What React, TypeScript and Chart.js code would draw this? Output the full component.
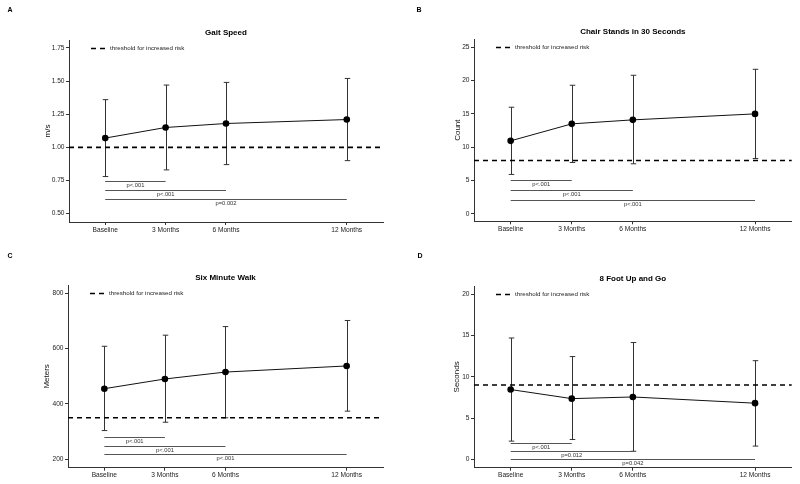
import React, { useEffect, useRef } from 'react';
import { Chart, registerables } from 'chart.js';
Chart.register(...registerables);

const categories = ['Baseline', '3 Months', '6 Months', '12 Months'];
const months = [0, 3, 6, 12];

const gaitMean = [1.07, 1.15, 1.18, 1.21];
const gaitUpper = [1.36, 1.47, 1.49, 1.52];
const gaitLower = [0.78, 0.83, 0.87, 0.9];
const gaitThreshold = 1.0;
const gaitTicks = [0.5, 0.75, 1.0, 1.25, 1.5, 1.75];
const gaitBrackets = [0.75, 0.68, 0.61];
const gaitP = ['p<.001', 'p<.001', 'p=0.002'];

const chairMean = [10.95, 13.5, 14.1, 15.0];
const chairUpper = [16.0, 19.3, 20.8, 21.7];
const chairLower = [5.9, 7.7, 7.5, 8.3];
const chairThreshold = 8;
const chairTicks = [0, 5, 10, 15, 20, 25];
const chairBrackets = [5.0, 3.5, 2.0];
const chairP = ['p<.001', 'p<.001', 'p<.001'];

const walkMean = [455, 490, 515, 537];
const walkUpper = [608, 648, 679, 701];
const walkLower = [304, 334, 350, 374];
const walkThreshold = 350;
const walkTicks = [200, 400, 600, 800];
const walkBrackets = [280, 250, 220];
const walkP = ['p<.001', 'p<.001', 'p<.001'];

const upGoMean = [8.45, 7.35, 7.55, 6.8];
const upGoUpper = [14.7, 12.45, 14.15, 11.95];
const upGoLower = [2.2, 2.4, 0.97, 1.6];
const upGoThreshold = 9;
const upGoTicks = [0, 5, 10, 15, 20];
const upGoBrackets = [2.0, 1.0, 0.0];
const upGoP = ['p<.001', 'p=0.012', 'p=0.042'];

const FONT = "'Liberation Sans', Arial, sans-serif";

type Panel = {
  letter: string;
  title: string;
  yTitle: string;
  mean: number[];
  upper: number[];
  lower: number[];
  threshold: number;
  ticks: number[];
  brackets: number[];
  pLabels: string[];
  yMin: number;
  yMax: number;
  decimals: number;
  // layout
  top: number;
  right: number;
  yWidth: number;
  xHeight: number;
  yTitleX: number;
  letterX: number;
  letterY: number;
};

const panels: Panel[] = [
  {
    letter: 'A', title: 'Gait Speed', yTitle: 'm/s',
    mean: gaitMean, upper: gaitUpper, lower: gaitLower, threshold: gaitThreshold,
    ticks: gaitTicks, brackets: gaitBrackets, pLabels: gaitP,
    yMin: 0.437, yMax: 1.81, decimals: 2,
    top: 40, right: 17, yWidth: 69, xHeight: 20, yTitleX: 48, letterX: 10, letterY: 10,
  },
  {
    letter: 'B', title: 'Chair Stands in 30 Seconds', yTitle: 'Count',
    mean: chairMean, upper: chairUpper, lower: chairLower, threshold: chairThreshold,
    ticks: chairTicks, brackets: chairBrackets, pLabels: chairP,
    yMin: -1.14, yMax: 26.25, decimals: 0,
    top: 39, right: 8.3, yWidth: 74, xHeight: 20.7, yTitleX: 58, letterX: 19, letterY: 10,
  },
  {
    letter: 'C', title: 'Six Minute Walk', yTitle: 'Meters',
    mean: walkMean, upper: walkUpper, lower: walkLower, threshold: walkThreshold,
    ticks: walkTicks, brackets: walkBrackets, pLabels: walkP,
    yMin: 170, yMax: 829, decimals: 0,
    top: 43, right: 17, yWidth: 68, xHeight: 16.3, yTitleX: 47, letterX: 10, letterY: 13.7,
  },
  {
    letter: 'D', title: '8 Foot Up and Go', yTitle: 'Seconds',
    mean: upGoMean, upper: upGoUpper, lower: upGoLower, threshold: upGoThreshold,
    ticks: upGoTicks, brackets: upGoBrackets, pLabels: upGoP,
    yMin: -1.02, yMax: 21.0, decimals: 0,
    top: 44, right: 8.3, yWidth: 74, xHeight: 16.3, yTitleX: 57, letterX: 20, letterY: 14,
  },
];

function makePlugin(p: Panel) {
  return {
    id: 'panelDecor',
    beforeDatasetsDraw(chart: any) {
      const { ctx, chartArea } = chart;
      const x = chart.scales.x;
      const y = chart.scales.y;
      ctx.save();
      // error bars
      ctx.strokeStyle = '#333';
      ctx.lineWidth = 1;
      months.forEach((m, i) => {
        const px = Math.round(x.getPixelForValue(m)) + 0.5;
        const yt = y.getPixelForValue(p.upper[i]);
        const yb = y.getPixelForValue(p.lower[i]);
        ctx.beginPath();
        ctx.moveTo(px, yt);
        ctx.lineTo(px, yb);
        ctx.moveTo(px - 2.75, yt);
        ctx.lineTo(px + 2.75, yt);
        ctx.moveTo(px - 2.75, yb);
        ctx.lineTo(px + 2.75, yb);
        ctx.stroke();
      });
      // brackets
      p.brackets.forEach((b, k) => {
        const x0 = x.getPixelForValue(months[0]);
        const x1 = x.getPixelForValue(months[k + 1]);
        const by = Math.round(y.getPixelForValue(b)) + 0.5;
        ctx.strokeStyle = '#555';
        ctx.lineWidth = 1;
        ctx.beginPath();
        ctx.moveTo(x0, by);
        ctx.lineTo(x1, by);
        ctx.stroke();
        ctx.fillStyle = '#333';
        ctx.font = `5.8px ${FONT}`;
        ctx.textAlign = 'center';
        ctx.textBaseline = 'middle';
        ctx.fillText(p.pLabels[k], (x0 + x1) / 2, by + 3.6);
      });
      // threshold
      const ty = y.getPixelForValue(p.threshold);
      ctx.strokeStyle = '#000';
      ctx.lineWidth = 1.6;
      ctx.setLineDash([5, 4]);
      ctx.beginPath();
      ctx.moveTo(chartArea.left, ty);
      ctx.lineTo(chartArea.right, ty);
      ctx.stroke();
      ctx.restore();
    },
    afterDraw(chart: any) {
      const { ctx, chartArea } = chart;
      ctx.save();
      // title
      ctx.fillStyle = '#000';
      ctx.font = `bold 8px ${FONT}`;
      ctx.textAlign = 'center';
      ctx.textBaseline = 'middle';
      ctx.fillText(p.title, (chartArea.left + chartArea.right) / 2, chartArea.top - 7);
      // panel letter
      ctx.font = `bold 7px ${FONT}`;
      ctx.fillText(p.letter, p.letterX, p.letterY);
      // legend
      const ly = chartArea.top + 8.5;
      const lx = chartArea.left + 22;
      ctx.strokeStyle = '#000';
      ctx.lineWidth = 1.6;
      ctx.setLineDash([5, 4]);
      ctx.beginPath();
      ctx.moveTo(lx, ly);
      ctx.lineTo(lx + 14, ly);
      ctx.stroke();
      ctx.setLineDash([]);
      ctx.fillStyle = '#222';
      ctx.font = `6.2px ${FONT}`;
      ctx.textAlign = 'left';
      ctx.fillText('threshold for increased risk', lx + 19, ly);
      // y title
      ctx.translate(p.yTitleX, (chartArea.top + chartArea.bottom) / 2);
      ctx.rotate(-Math.PI / 2);
      ctx.font = `8px ${FONT}`;
      ctx.textAlign = 'center';
      ctx.fillStyle = '#111';
      ctx.fillText(p.yTitle, 0, 0);
      ctx.restore();
    },
  };
}

function PanelChart({ p }: { p: Panel }) {
  const ref = useRef<HTMLCanvasElement | null>(null);
  useEffect(() => {
    if (!ref.current) return;
    const axisCommon = {
      grid: { display: true, drawOnChartArea: false, drawTicks: true, tickLength: 3, color: '#333', tickColor: '#333' },
      border: { display: true, color: '#333', width: 1 },
    };
    const chart = new Chart(ref.current, {
      type: 'line',
      data: {
        datasets: [
          {
            data: months.map((m, i) => ({ x: m, y: p.mean[i] })),
            borderColor: '#111',
            borderWidth: 1,
            pointRadius: 3.3,
            pointBackgroundColor: '#000',
            pointBorderColor: '#000',
            pointBorderWidth: 0,
            tension: 0,
            fill: false,
          },
        ],
      },
      options: {
        responsive: false,
        animation: false,
        layout: { padding: { left: 0, top: p.top, right: p.right, bottom: 0 } },
        plugins: { legend: { display: false }, tooltip: { enabled: false }, title: { display: false } },
        scales: {
          x: {
            type: 'linear',
            min: -1.8,
            max: 13.8,
            afterBuildTicks: (s: any) => { s.ticks = months.map((v) => ({ value: v })); },
            afterFit: (s: any) => { s.height = p.xHeight; },
            ticks: {
              autoSkip: false,
              maxRotation: 0,
              padding: 1,
              color: '#222',
              font: { family: FONT, size: 6.6 },
              callback: (_v: any, i: number) => categories[i],
            },
            ...axisCommon,
          },
          y: {
            type: 'linear',
            min: p.yMin,
            max: p.yMax,
            afterBuildTicks: (s: any) => { s.ticks = p.ticks.map((v) => ({ value: v })); },
            afterFit: (s: any) => { s.width = p.yWidth; },
            ticks: {
              padding: 1.5,
              color: '#222',
              font: { family: FONT, size: 6.6 },
              callback: (v: any) => Number(v).toFixed(p.decimals),
            },
            ...axisCommon,
          },
        },
      } as any,
      plugins: [makePlugin(p)],
    });
    return () => chart.destroy();
  }, [p]);
  return <canvas ref={ref} width={400} height={242} style={{ display: 'block', width: 400, height: 242 }} />;
}

export default function App() {
  return (
    <div style={{ position: 'fixed', left: 0, top: 0, width: 800, height: 484, background: '#fff', display: 'grid', gridTemplateColumns: '400px 400px', gridTemplateRows: '242px 242px' }}>
      {panels.map((p) => (
        <PanelChart key={p.letter} p={p} />
      ))}
    </div>
  );
}
